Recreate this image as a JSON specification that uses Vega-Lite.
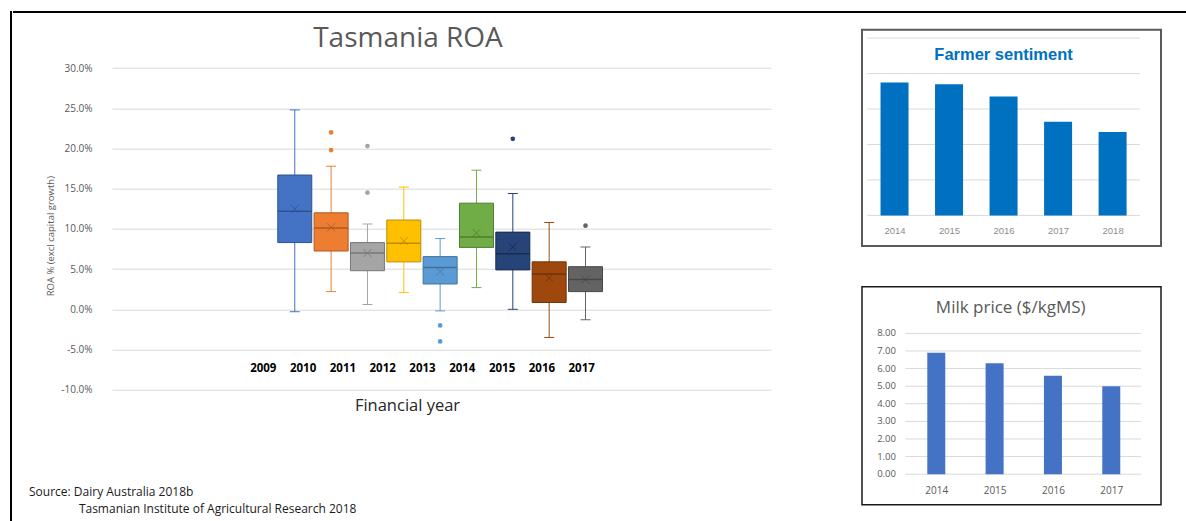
{
  "$schema": "https://vega.github.io/schema/vega-lite/v6.json",
  "padding": {"left": 10, "top": 11, "right": 0, "bottom": 0},
  "background": "white",
  "config": {
    "locale": {"number": {"decimal": ".", "thousands": ",", "grouping": [3], "currency": ["$", ""], "minus": "-"}},
    "font": "Open Sans",
    "view": {"stroke": null}
  },
  "datasets": {
    "boxes": [
      {"year": 2009, "lower": -0.3, "q1": 8.3, "median": 12.2, "q3": 16.7, "upper": 24.8, "mean": 12.5},
      {"year": 2010, "lower": 2.2, "q1": 7.25, "median": 10.1, "q3": 12.0, "upper": 17.8, "mean": 10.2},
      {"year": 2011, "lower": 0.6, "q1": 4.8, "median": 7.0, "q3": 8.3, "upper": 10.6, "mean": 7.0},
      {"year": 2012, "lower": 2.1, "q1": 5.9, "median": 8.2, "q3": 11.1, "upper": 15.2, "mean": 8.5},
      {"year": 2013, "lower": -0.2, "q1": 3.15, "median": 5.2, "q3": 6.55, "upper": 8.8, "mean": 4.7},
      {"year": 2014, "lower": 2.7, "q1": 7.7, "median": 9.0, "q3": 13.2, "upper": 17.3, "mean": 9.5},
      {"year": 2015, "lower": 0.0, "q1": 4.9, "median": 6.9, "q3": 9.6, "upper": 14.4, "mean": 7.75},
      {"year": 2016, "lower": -3.5, "q1": 0.85, "median": 4.4, "q3": 5.9, "upper": 10.8, "mean": 3.9},
      {"year": 2017, "lower": -1.3, "q1": 2.2, "median": 3.7, "q3": 5.3, "upper": 7.75, "mean": 3.7}
    ],
    "outliers": [
      {"year": 2010, "value": 22.0},
      {"year": 2010, "value": 19.8},
      {"year": 2011, "value": 20.3},
      {"year": 2011, "value": 14.5},
      {"year": 2013, "value": -2.0},
      {"year": 2013, "value": -4.0},
      {"year": 2015, "value": 21.2},
      {"year": 2017, "value": 10.4}
    ],
    "farmer": [
      {"year": 2014, "value": 3.75},
      {"year": 2015, "value": 3.70},
      {"year": 2016, "value": 3.35},
      {"year": 2017, "value": 2.64},
      {"year": 2018, "value": 2.35}
    ],
    "farmerGrid": [{"g": 0}, {"g": 1}, {"g": 2}, {"g": 3}, {"g": 4}, {"g": 5}],
    "milk": [
      {"year": 2014, "price": 6.9},
      {"year": 2015, "price": 6.3},
      {"year": 2016, "price": 5.6},
      {"year": 2017, "price": 5.0}
    ],
    "milkGrid": [{"g": 0}, {"g": 1}, {"g": 2}, {"g": 3}, {"g": 4}, {"g": 5}, {"g": 6}, {"g": 7}, {"g": 8}]
  },
  "spacing": 0,
  "hconcat": [
    {
      "width": 0.01, "height": 520,
      "data": {"values": []},
      "mark": "rule",
      "encoding": {},
      "view": {"stroke": "#000000", "strokeWidth": 2}
    },
    {
      "spacing": 10.7,
      "vconcat": [
        {
          "width": 1180, "height": 0.01,
          "data": {"values": []},
          "mark": "rule",
          "encoding": {},
          "view": {"stroke": "#000000", "strokeWidth": 2}
        },
        {
          "spacing": 90,
          "hconcat": [
            {
              "spacing": 0,
              "title": {
                "text": ["Source: Dairy Australia 2018b", "\u200b\u00a0\u00a0\u00a0\u00a0\u00a0\u00a0\u00a0\u00a0\u00a0\u00a0\u00a0\u00a0\u00a0\u00a0\u00a0\u00a0Tasmanian Institute of Agricultural Research 2018"],
                "orient": "bottom", "anchor": "start", "frame": "bounds",
                "offset": 73, "dx": 15, "fontSize": 12, "fontWeight": "normal",
                "color": "#1a1a1a", "lineHeight": 17, "font": "Open Sans"
              },
              "hconcat": [
                {"width": 30.5, "height": 1, "data": {"values": []}, "mark": "rule", "encoding": {}},
                {
                  "width": 659, "height": 360,
                  "resolve": {"scale": {"x": "independent"}, "axis": {"x": "independent"}},
                  "layer": [
                    {
                      "data": {"name": "boxes"},
                      "encoding": {
                        "x": {"field": "year", "type": "quantitative", "scale": {"domain": [2004.108, 2021.967], "nice": false, "zero": false}, "axis": null}
                      },
                      "layer": [
                        {
                          "mark": {"type": "rule", "strokeWidth": 1},
                          "encoding": {
                            "y": {"field": "lower", "type": "quantitative", "title": "ROA % (excl capital growth)",
                              "scale": {"domain": [-10, 34.776], "nice": false, "zero": false},
                              "axis": {"values": [-10, -5, 0, 5, 10, 15, 20, 25, 30], "labelExpr": "format(datum.value, '.1f') + '%'",
                                "domain": false, "ticks": false, "grid": true, "gridColor": "#d9d9d9", "gridWidth": 1,
                                "labelColor": "#595959", "labelFontSize": 10, "labelPadding": 20,
                                "titleColor": "#595959", "titleFontSize": 9.5, "titleFontWeight": "normal", "titlePadding": 5, "titleY": 206}},
                            "y2": {"field": "upper"},
                            "color": {"field": "year", "type": "nominal", "legend": null,
                              "scale": {"domain": [2009, 2010, 2011, 2012, 2013, 2014, 2015, 2016, 2017],
                                "range": ["#4472C4", "#ED7D31", "#A5A5A5", "#FFC000", "#5B9BD5", "#70AD47", "#264478", "#9E480E", "#636363"]}}
                          }
                        },
                        {
                          "mark": {"type": "tick", "orient": "horizontal", "size": 10, "thickness": 1, "opacity": 1},
                          "encoding": {
                            "y": {"field": "lower", "type": "quantitative"},
                            "color": {"field": "year", "type": "nominal", "legend": null}
                          }
                        },
                        {
                          "mark": {"type": "tick", "orient": "horizontal", "size": 10, "thickness": 1, "opacity": 1},
                          "encoding": {
                            "y": {"field": "upper", "type": "quantitative"},
                            "color": {"field": "year", "type": "nominal", "legend": null}
                          }
                        },
                        {
                          "mark": {"type": "bar", "width": 34, "strokeWidth": 1},
                          "encoding": {
                            "y": {"field": "q1", "type": "quantitative"},
                            "y2": {"field": "q3"},
                            "color": {"field": "year", "type": "nominal", "legend": null},
                            "stroke": {"field": "year", "type": "nominal", "legend": null,
                              "scale": {"domain": [2009, 2010, 2011, 2012, 2013, 2014, 2015, 2016, 2017],
                                "range": ["#2F528F", "#AE5A21", "#787878", "#BC8C00", "#41719C", "#507E32", "#172C51", "#71330A", "#474747"]}}
                          }
                        },
                        {
                          "mark": {"type": "tick", "orient": "horizontal", "size": 34, "thickness": 1.5, "opacity": 1},
                          "encoding": {
                            "y": {"field": "median", "type": "quantitative"},
                            "fill": {"field": "year", "type": "nominal", "legend": null,
                              "scale": {"domain": [2009, 2010, 2011, 2012, 2013, 2014, 2015, 2016, 2017],
                                "range": ["#2F528F", "#AE5A21", "#787878", "#BC8C00", "#41719C", "#507E32", "#172C51", "#71330A", "#474747"]}}
                          }
                        },
                        {
                          "mark": {"type": "point", "shape": "M-1,-1L1,1M-1,1L1,-1", "size": 64, "filled": false, "strokeWidth": 1, "opacity": 0.8},
                          "encoding": {
                            "y": {"field": "mean", "type": "quantitative"},
                            "stroke": {"field": "year", "type": "nominal", "legend": null}
                          }
                        },
                        {
                          "data": {"name": "outliers"},
                          "mark": {"type": "circle", "size": 22, "opacity": 1},
                          "encoding": {
                            "y": {"field": "value", "type": "quantitative"},
                            "color": {"field": "year", "type": "nominal", "legend": null}
                          }
                        }
                      ]
                    },
                    {
                      "data": {"values": [{"label": "Tasmania ROA"}]},
                      "mark": {"type": "text", "fontSize": 28, "color": "#595959", "align": "center", "baseline": "alphabetic"},
                      "encoding": {
                        "text": {"field": "label"},
                        "x": {"datum": 2012.13, "type": "quantitative", "scale": {"domain": [2004.108, 2021.967], "nice": false, "zero": false}, "axis": null},
                        "y": {"datum": 32.61, "type": "quantitative"}
                      }
                    },
                    {
                      "data": {"name": "boxes"},
                      "mark": {"type": "tick", "opacity": 0},
                      "encoding": {
                        "x": {"field": "year", "type": "quantitative",
                          "scale": {"domain": [2005.211, 2021.769], "nice": false, "zero": false},
                          "axis": {"orient": "bottom", "values": [2009, 2010, 2011, 2012, 2013, 2014, 2015, 2016, 2017], "format": "d",
                            "offset": -29.6, "domain": false, "ticks": false, "grid": false,
                            "labelFontWeight": "bold", "labelFontSize": 11.5, "labelColor": "#000000", "labelPadding": 2,
                            "title": "Financial year", "titleFontSize": 16.5, "titleFontWeight": "normal", "titleColor": "#262626",
                            "titlePadding": 24, "titleX": 295}}
                      }
                    }
                  ]
                }
              ]
            },
            {
              "spacing": 38,
              "vconcat": [
                {
                  "width": 299, "height": 216.4,
                  "view": {"stroke": "#5a5a5a", "strokeWidth": 2},
                  "layer": [
                    {
                      "data": {"name": "farmerGrid"},
                      "mark": {"type": "rule", "color": "#d9d9d9", "strokeWidth": 1},
                      "encoding": {
                        "y": {"field": "g", "type": "quantitative", "scale": {"domain": [-0.866, 5.237], "nice": false, "zero": false}, "axis": null},
                        "x": {"datum": 2013.5, "type": "quantitative", "scale": {"domain": [2013.495, 2018.796], "nice": false, "zero": false}},
                        "x2": {"datum": 2018.5}
                      }
                    },
                    {
                      "data": {"name": "farmer"},
                      "mark": {"type": "bar", "width": 28, "color": "#0070C0"},
                      "encoding": {
                        "x": {"field": "year", "type": "quantitative", "scale": {"domain": [2013.495, 2018.796], "nice": false, "zero": false},
                          "axis": {"values": [2014, 2015, 2016, 2017, 2018], "format": "d", "offset": -22.9, "domain": false, "ticks": false, "grid": false,
                            "labelColor": "#8c8c8c", "labelFont": "Liberation Sans", "labelFontSize": 9.5, "labelPadding": 2, "title": null}},
                        "y": {"field": "value", "type": "quantitative", "scale": {"domain": [-0.866, 5.237], "nice": false, "zero": false}, "axis": null},
                        "y2": {"datum": 0}
                      }
                    },
                    {
                      "data": {"values": [{"label": "Farmer sentiment"}]},
                      "mark": {"type": "text", "font": "Liberation Sans", "fontSize": 16.5, "fontWeight": "bold", "color": "#0070C0"},
                      "encoding": {
                        "text": {"field": "label"},
                        "x": {"datum": 2016.0, "type": "quantitative"},
                        "y": {"datum": 4.51, "type": "quantitative", "axis": null}
                      }
                    }
                  ]
                },
                {
                  "width": 299, "height": 218,
                  "view": {"stroke": "#1a1a1a", "strokeWidth": 1.5},
                  "layer": [
                    {
                      "data": {"name": "milkGrid"},
                      "mark": {"type": "rule", "color": "#d9d9d9", "strokeWidth": 1},
                      "encoding": {
                        "y": {"field": "g", "type": "quantitative", "scale": {"domain": [-1.733, 10.653], "nice": false, "zero": false}, "axis": null},
                        "x": {"datum": 2013.47, "type": "quantitative", "scale": {"domain": [2012.812, 2017.767], "nice": false, "zero": false}},
                        "x2": {"datum": 2017.51}
                      }
                    },
                    {
                      "data": {"name": "milkGrid"},
                      "mark": {"type": "text", "align": "right", "baseline": "middle", "fontSize": 9.5, "color": "#595959"},
                      "encoding": {
                        "text": {"field": "g", "type": "quantitative", "format": ".2f"},
                        "y": {"field": "g", "type": "quantitative", "axis": null},
                        "x": {"datum": 2013.309, "type": "quantitative"}
                      }
                    },
                    {
                      "data": {"name": "milk"},
                      "mark": {"type": "bar", "width": 18, "color": "#4472C4"},
                      "encoding": {
                        "x": {"field": "year", "type": "quantitative", "scale": {"domain": [2012.812, 2017.767], "nice": false, "zero": false},
                          "axis": {"values": [2014, 2015, 2016, 2017], "format": "d", "offset": -21.7, "domain": false, "ticks": false, "grid": false,
                            "labelColor": "#595959", "labelFontSize": 10, "labelPadding": 2, "title": null}},
                        "y": {"field": "price", "type": "quantitative", "scale": {"domain": [-1.733, 10.653], "nice": false, "zero": false}, "axis": null},
                        "y2": {"datum": 0}
                      }
                    },
                    {
                      "data": {"values": [{"label": "Milk price ($/kgMS)"}]},
                      "mark": {"type": "text", "fontSize": 17, "color": "#595959"},
                      "encoding": {
                        "text": {"field": "label"},
                        "x": {"datum": 2015.276, "type": "quantitative"},
                        "y": {"datum": 9.46, "type": "quantitative", "axis": null}
                      }
                    }
                  ]
                }
              ]
            }
          ]
        }
      ]
    }
  ]
}
